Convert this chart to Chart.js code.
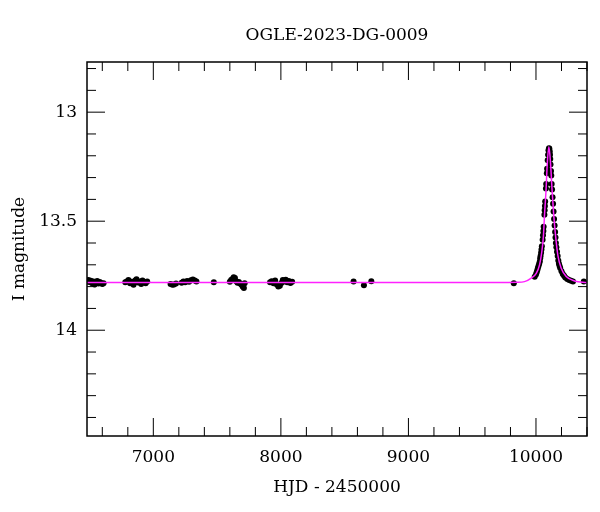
<!DOCTYPE html>
<html>
<head>
<meta charset="utf-8">
<title>OGLE-2023-DG-0009</title>
<script src="https://cdn.jsdelivr.net/npm/chart.js@4.4.0/dist/chart.umd.min.js"></script>
<style>
  html, body { margin: 0; padding: 0; background: #fff; }
  #wrap { width: 600px; height: 512px; }
</style>
</head>
<body>
<div id="wrap"><canvas id="lightCurve" width="600" height="512"></canvas></div>
<script>
/* ---- light curve values ---- */

// photometry: HJD - 2450000 and I magnitude
const obsHjd = [
  6484, 6492, 6500, 6510, 6520, 6530, 6540, 6550, 6560, 6570, 6580, 6590, 6600, 6610,
  6780, 6792, 6805, 6818, 6830, 6845, 6858, 6868, 6880, 6892, 6905, 6915, 6928, 6940, 6952,
  7135, 7150, 7162, 7178, 7222, 7236, 7250, 7265, 7280, 7295, 7310, 7325, 7338,
  7474,
  7600, 7610, 7620, 7630, 7640, 7650, 7660, 7670, 7680, 7690, 7700, 7710, 7716,
  7915, 7928, 7942, 7955, 7968, 7980, 7992, 8004, 8015, 8026, 8038, 8050, 8062, 8075, 8088,
  8570, 8651, 8709, 9826,
  9990, 10000, 10005, 10010, 10015, 10020, 10025, 10030, 10033, 10036, 10040, 10043, 10046,
  10052, 10055, 10058, 10060, 10066, 10068, 10070, 10072, 10078, 10080, 10085, 10087,
  10092, 10095, 10098, 10102,
  10105, 10108, 10110, 10112, 10114, 10118, 10120, 10123, 10126, 10130, 10134, 10138,
  10142, 10146, 10150, 10153, 10156, 10160, 10165, 10170, 10175, 10180, 10185, 10190,
  10200, 10210, 10220, 10230, 10245, 10260, 10275, 10290, 10375
];
const obsMag = [
  13.776, 13.770, 13.779, 13.773, 13.784, 13.776, 13.790, 13.781, 13.774, 13.786, 13.779, 13.783, 13.788, 13.785,
  13.780, 13.776, 13.770, 13.785, 13.778, 13.791, 13.772, 13.766, 13.781, 13.776, 13.788, 13.772, 13.779, 13.785, 13.777,
  13.788, 13.792, 13.790, 13.786, 13.782, 13.776, 13.780, 13.774, 13.778, 13.771, 13.767, 13.772, 13.776,
  13.780,
  13.778, 13.770, 13.765, 13.757, 13.760, 13.775, 13.782, 13.779, 13.786, 13.790, 13.800, 13.806, 13.784,
  13.780, 13.775, 13.785, 13.772, 13.790, 13.800, 13.796, 13.783, 13.770, 13.776, 13.768, 13.780, 13.774, 13.783, 13.778,
  13.776, 13.794, 13.775, 13.784,
  13.755, 13.745, 13.735, 13.725, 13.715, 13.705, 13.695, 13.685, 13.670, 13.660, 13.645, 13.630, 13.615,
  13.585, 13.565, 13.545, 13.525, 13.470, 13.450, 13.430, 13.410, 13.350, 13.330, 13.280, 13.260,
  13.220, 13.195, 13.175, 13.165,
  13.168, 13.180, 13.195, 13.215, 13.240, 13.270, 13.290, 13.330, 13.355, 13.390, 13.420, 13.455,
  13.490, 13.520, 13.550, 13.575, 13.600, 13.620, 13.640, 13.660, 13.680, 13.695, 13.705, 13.715,
  13.730, 13.742, 13.750, 13.758, 13.765, 13.770, 13.773, 13.776, 13.776
];

// fitted model curve (magenta)
const modelHjd = [6480, 9700, 9850, 9910, 9963, 10002, 10028, 10046, 10059, 10067, 10079, 10088,
  10101, 10114, 10126, 10139, 10153, 10171, 10198, 10237, 10302, 10400];
const modelMag = [13.781, 13.781, 13.780, 13.777, 13.761, 13.739, 13.700, 13.639, 13.563, 13.471, 13.356, 13.242,
  13.159, 13.233, 13.356, 13.471, 13.563, 13.655, 13.716, 13.754, 13.774, 13.781];

// axes
const xLimits = [6480, 10400];
const yLimits = [12.77, 14.485];
const xMajorTicks = [7000, 8000, 9000, 10000];
const yMajorTicks = [13, 13.5, 14];
const xMinorStep = 200;
const yMinorStep = 0.1;

const serif = "'DejaVu Serif', 'Liberation Serif', serif";
const fontSize = 17;

// frame + inward ticks on all four sides, like the OGLE plots
const frameTicks = {
  id: "frameTicks",
  afterDatasetsDraw(chart) {
    const { ctx, chartArea: a, scales } = chart;
    const x = scales.x;
    const y = scales.y;
    ctx.save();
    ctx.strokeStyle = "#000";
    ctx.lineWidth = 1;

    const drawX = (val, len) => {
      const px = x.getPixelForValue(val);
      ctx.beginPath();
      ctx.moveTo(px, a.bottom);
      ctx.lineTo(px, a.bottom - len);
      ctx.moveTo(px, a.top);
      ctx.lineTo(px, a.top + len);
      ctx.stroke();
    };
    const drawY = (val, len) => {
      const py = y.getPixelForValue(val);
      ctx.beginPath();
      ctx.moveTo(a.left, py);
      ctx.lineTo(a.left + len, py);
      ctx.moveTo(a.right, py);
      ctx.lineTo(a.right - len, py);
      ctx.stroke();
    };

    for (let v = Math.ceil(xLimits[0] / xMinorStep) * xMinorStep; v <= xLimits[1]; v += xMinorStep) {
      drawX(v, xMajorTicks.includes(v) ? 18 : 9);
    }
    for (let i = Math.ceil(yLimits[0] / yMinorStep); i * yMinorStep <= yLimits[1]; i++) {
      const v = Math.round(i * yMinorStep * 10) / 10;
      drawY(v, yMajorTicks.includes(v) ? 18 : 9);
    }

    ctx.lineWidth = 1.5;
    ctx.strokeRect(a.left, a.top, a.right - a.left, a.bottom - a.top);
    ctx.restore();
  },
};

const obsPoints = obsHjd.map((t, i) => ({ x: t, y: obsMag[i] }));
const modelPoints = modelHjd.map((t, i) => ({ x: t, y: modelMag[i] }));

new Chart(document.getElementById("lightCurve"), {
  type: "scatter",
  data: {
    datasets: [
      {
        label: "model",
        data: modelPoints,
        showLine: true,
        borderColor: "#ff22ff",
        borderWidth: 1.5,
        pointRadius: 0,
        cubicInterpolationMode: "monotone",
        order: 0,
      },
      {
        label: "OGLE I",
        data: obsPoints,
        backgroundColor: "#000",
        borderColor: "#000",
        pointRadius: 3,
        pointBorderWidth: 0,
        order: 1,
      },
    ],
  },
  options: {
    responsive: false,
    animation: false,
    devicePixelRatio: 1,
    layout: { padding: { left: 0, right: 13, top: 0, bottom: 0 } },
    plugins: {
      legend: { display: false },
      tooltip: { enabled: false },
      title: {
        display: true,
        fullSize: false,
        text: "OGLE-2023-DG-0009",
        color: "#000",
        font: { family: serif, size: fontSize, weight: "normal" },
        padding: { top: 25, bottom: 16.6 },
      },
    },
    scales: {
      x: {
        type: "linear",
        min: xLimits[0],
        max: xLimits[1],
        grid: { display: false, drawTicks: false },
        border: { display: false },
        afterBuildTicks: (scale) => {
          scale.ticks = xMajorTicks.map((v) => ({ value: v }));
        },
        afterFit: (scale) => {
          scale.height = 76;
        },
        ticks: {
          color: "#000",
          padding: 11,
          maxRotation: 0,
          font: { family: serif, size: fontSize },
          callback: (value) => String(value),
        },
        title: {
          display: true,
          text: "HJD - 2450000",
          color: "#000",
          font: { family: serif, size: fontSize },
          padding: { top: 0, bottom: 13.8 },
        },
      },
      y: {
        type: "linear",
        reverse: true,
        min: yLimits[0],
        max: yLimits[1],
        grid: { display: false, drawTicks: false },
        border: { display: false },
        afterBuildTicks: (scale) => {
          scale.ticks = yMajorTicks.map((v) => ({ value: v }));
        },
        afterFit: (scale) => {
          scale.width = 87;
        },
        ticks: {
          color: "#000",
          padding: 10,
          font: { family: serif, size: fontSize },
          callback: (value) => String(value),
        },
        title: {
          display: true,
          text: "I magnitude",
          color: "#000",
          font: { family: serif, size: fontSize },
          padding: { top: 9.8, bottom: 0 },
        },
      },
    },
  },
  plugins: [frameTicks],
});
</script>
</body>
</html>
